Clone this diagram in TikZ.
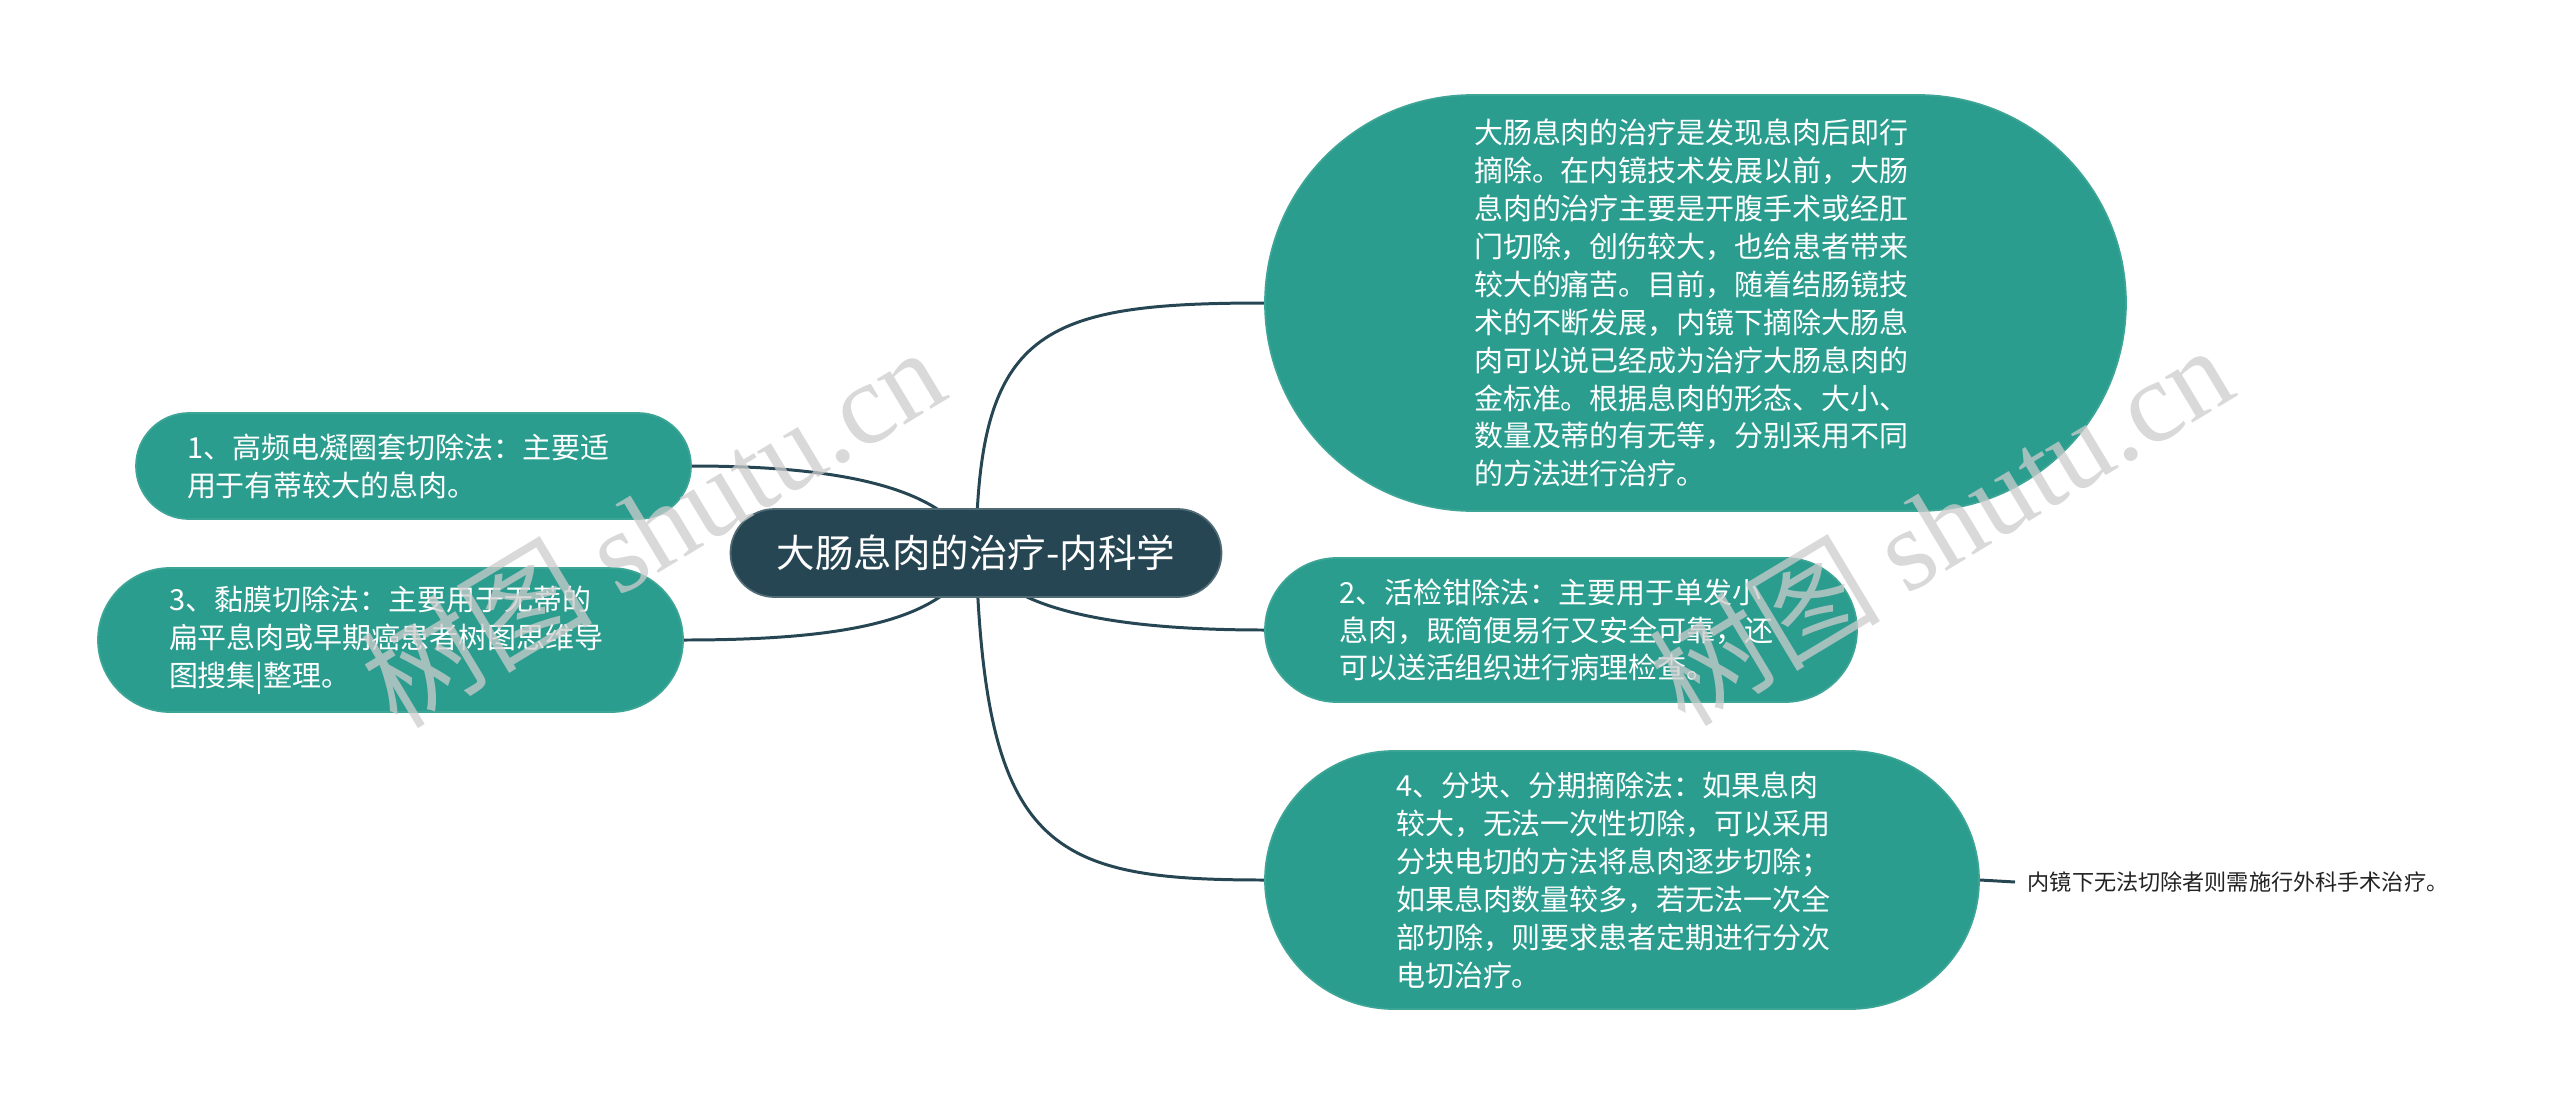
\documentclass[tikz,border=0pt]{standalone}
\usepackage{fontspec}
\setmainfont{Noto Sans CJK SC}
\newfontfamily\cjk{Noto Sans CJK SC}
\newfontfamily\wmserif{Liberation Serif}
\usetikzlibrary{backgrounds}
\definecolor{tgreen}{HTML}{2A9D8F}
\definecolor{tgreenline}{HTML}{3DA595}
\definecolor{tdark}{HTML}{264653}
\definecolor{leaftext}{HTML}{222222}
\tikzset{
  topic/.style={fill=tgreen, draw=tgreenline, line width=0.5pt, text=white,
    inner sep=0pt, align=left, font=\fontsize{8.25}{10.8}\selectfont},
  central/.style={fill=tdark, draw=tdark!80!white, line width=0.5pt, text=white,
    inner sep=0pt, font=\fontsize{10.95}{13}\selectfont},
  edge/.style={draw=tdark, line width=0.85pt},
  leaf/.style={text=leaftext, inner sep=1.2mm, anchor=west,
    font=\fontsize{6.3}{8}\selectfont},
  watermark/.style={text=black!20, opacity=0.75, rotate=31,
    font=\fontsize{33}{35}\selectfont}
}
\begin{document}
\begin{tikzpicture}[x=0.1mm,y=-0.1mm]
\path[use as bounding box] (0,0) rectangle (2560,1107);

\node[central, minimum width=49.1mm, minimum height=8.8mm, rounded corners=4.4mm] (c) at (976,553) {大肠息肉的治疗-内科学};

\node[topic, text width=44.3mm, minimum width=86.1mm, minimum height=41.6mm, rounded corners=20.8mm] (big) at (1695.5,303)
{大肠息肉的治疗是发现息肉后即行\\摘除。在内镜技术发展以前，大肠\\息肉的治疗主要是开腹手术或经肛\\门切除，创伤较大，也给患者带来\\较大的痛苦。目前，随着结肠镜技\\术的不断发展，内镜下摘除大肠息\\肉可以说已经成为治疗大肠息肉的\\金标准。根据息肉的形态、大小、\\数量及蒂的有无等，分别采用不同\\的方法进行治疗。};

\node[topic, text width=44.4mm, minimum width=59.2mm, minimum height=14.4mm, rounded corners=7.2mm] (n2) at (1561,630)
{2、活检钳除法：主要用于单发小\\息肉，既简便易行又安全可靠，还\\可以送活组织进行病理检查。};

\node[topic, text width=45.2mm, minimum width=71.4mm, minimum height=25.8mm, rounded corners=12.9mm] (n4) at (1622,880)
{4、分块、分期摘除法：如果息肉\\较大，无法一次性切除，可以采用\\分块电切的方法将息肉逐步切除；\\如果息肉数量较多，若无法一次全\\部切除，则要求患者定期进行分次\\电切治疗。};

\node[topic, text width=45.3mm, minimum width=55.5mm, minimum height=10.6mm, rounded corners=5.3mm] (n1) at (413.5,466)
{1、高频电凝圈套切除法：主要适\\用于有蒂较大的息肉。};

\node[topic, text width=44.3mm, minimum width=58.5mm, minimum height=14.4mm, rounded corners=7.2mm] (n3) at (390.5,640)
{3、黏膜切除法：主要用于无蒂的\\扁平息肉或早期癌患者树图思维导\\图搜集|整理。};

\coordinate (lf) at (2015,882);
\node[leaf] (leaf) at (lf) {内镜下无法切除者则需施行外科手术治疗。};

\begin{scope}[on background layer]
  \draw[edge] (c.center) .. controls (978,330) and (1040,303) .. (big.west);
  \draw[edge] (c.center) .. controls (1000,600) and (1080,630) .. (n2.west);
  \draw[edge] (c.center) .. controls (985,850) and (1050,880) .. (n4.west);
  \draw[edge] (c.center) .. controls (950,490) and (850,466) .. (n1.east);
  \draw[edge] (c.center) .. controls (950,620) and (850,640) .. (n3.east);
  \draw[edge] (n4.east) -- (leaf.west);
\end{scope}

\node[watermark] (wm1) at (652,526) {树图 {\wmserif shutu.cn}};
\node[watermark] (wm2) at (1940,524) {树图 {\wmserif shutu.cn}};
\end{tikzpicture}
\end{document}
